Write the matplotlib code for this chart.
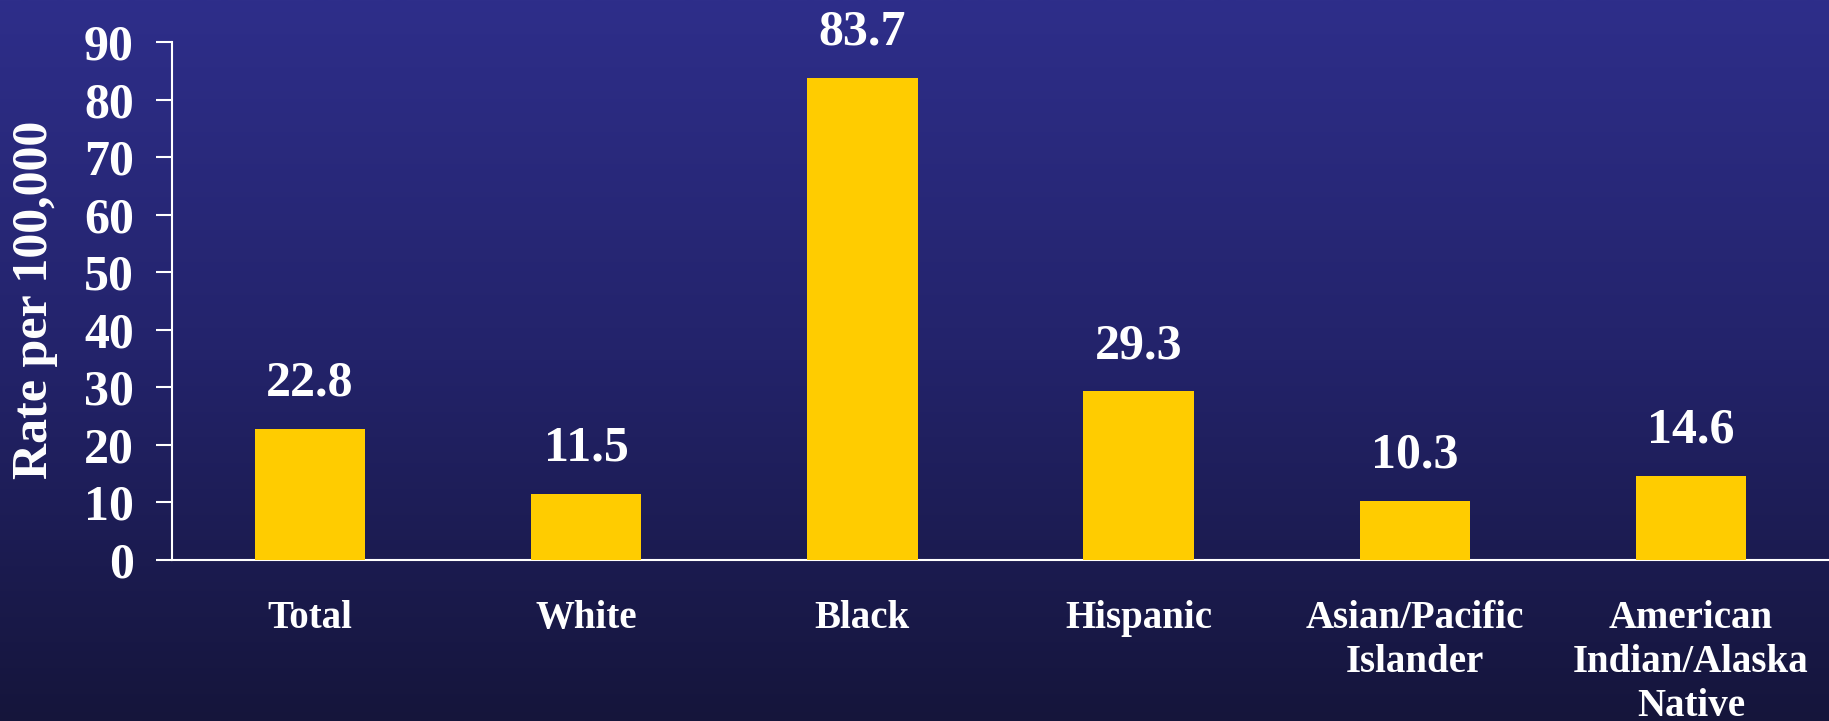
import numpy as np
import matplotlib
matplotlib.use("Agg")
import matplotlib.pyplot as plt
from matplotlib.colors import LinearSegmentedColormap

categories = ["Total", "White", "Black", "Hispanic",
              "Asian/Pacific\nIslander", "American\nIndian/Alaska\nNative"]
rates = [22.8, 11.5, 83.7, 29.3, 10.3, 14.6]
yticks = [0, 10, 20, 30, 40, 50, 60, 70, 80, 90]

W, H, DPI = 1829, 721, 100
plt.rcParams["font.family"] = ["Liberation Serif", "DejaVu Serif"]
plt.rcParams["font.weight"] = "bold"

fig = plt.figure(figsize=(W / DPI, H / DPI), dpi=DPI)

# vertical background gradient
bg = fig.add_axes([0, 0, 1, 1], zorder=-10)
grad = np.linspace(0, 1, 256).reshape(-1, 1)
cmap = LinearSegmentedColormap.from_list("bg", ["#2E2E8A", "#23236A", "#15153B"])
bg.imshow(grad, aspect="auto", cmap=cmap, extent=[0, 1, 0, 1], origin="upper")
bg.set_axis_off()

left = 172 / W
bottom = 1 - 560 / H
top = 1 - 42 / H
ax = fig.add_axes([left, bottom, 1 - left, top - bottom])
ax.patch.set_alpha(0)

x = np.arange(len(categories))
ax.bar(x, rates, width=0.4, color="#FFCC00", zorder=3)

for xi, v in zip(x, rates):
    ax.annotate(f"{v:.1f}", (xi, v), xytext=(0, 24), textcoords="offset points",
                ha="center", va="baseline", color="white",
                fontsize=36, fontweight="bold")

ax.set_xlim(-0.5, len(categories) - 0.5)
ax.set_ylim(0, 90)
ax.set_yticks(yticks)
ax.set_xticks(x)
ax.set_xticklabels(categories, fontsize=28, fontweight="bold", color="white",
                   linespacing=1.25)
ax.tick_params(axis="x", length=0, pad=29)
ax.tick_params(axis="y", length=11.5, width=1.5, color="white", pad=16,
               labelsize=36, labelcolor="white")
for lab in ax.get_yticklabels():
    lab.set_fontweight("bold")

for side in ("top", "right"):
    ax.spines[side].set_visible(False)
for side in ("left", "bottom"):
    ax.spines[side].set_color("white")
    ax.spines[side].set_linewidth(1.5)

fig.text(35 / W, 1 - 300 / H, "Rate per 100,000", rotation=90,
         ha="center", va="center", color="white", fontsize=36, fontweight="bold")

fig.savefig("out.png", dpi=DPI)
